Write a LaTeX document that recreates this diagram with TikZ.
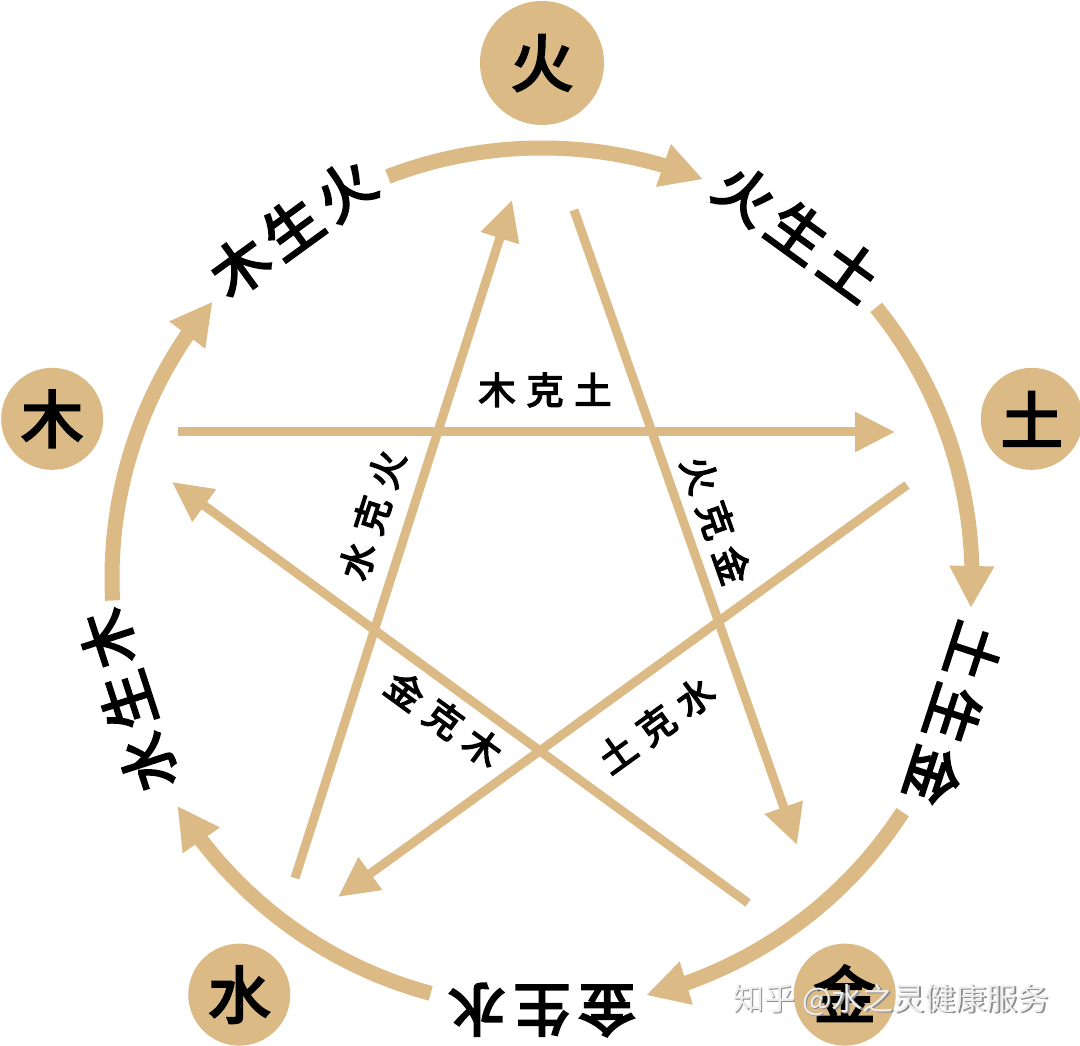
\documentclass[tikz,border=0pt]{standalone}
\usepackage{fontspec}
\newfontfamily\cjk{Noto Sans CJK SC}
\newfontfamily\cjkm{Noto Sans CJK SC}[FakeBold=4]
\usetikzlibrary{arrows.meta,bending,calc}
\definecolor{tanc}{RGB}{219,186,133}
\definecolor{wmshadow}{RGB}{140,140,140}
\definecolor{wmfill}{RGB}{238,238,238}
\begin{document}
\begin{tikzpicture}[x=1pt,y=1pt,
  elem/.style={circle,fill=tanc,inner sep=0pt,font=\cjkm\fontsize{62}{62}\selectfont},
  sheng/.style={draw=tanc,line width=15pt,-{Triangle[length=42pt,width=42pt,flex]}},
  ke/.style={draw=tanc,line width=9pt,-{Triangle[length=40pt,width=38pt]}},
  slab/.style={font=\cjkm\fontsize{57}{57}\selectfont,inner sep=0pt},
  klab/.style={font=\cjkm\fontsize{37}{37}\selectfont,inner sep=0pt},
  wmark/.style={font=\cjk\fontsize{31}{31}\selectfont,inner sep=0pt}]
\fill[white] (0,0) rectangle (1080,1046);
\useasboundingbox (0,0) rectangle (1080,1046);
\coordinate (C) at (542,468);

% star (ke) endpoints
\coordinate (muS) at (178,614);   \coordinate (muE) at (895,614);
\coordinate (huoS) at (574,836);  \coordinate (huoE) at (797,201);
\coordinate (jinS) at (748,143);  \coordinate (jinE) at (172,564);
\coordinate (shuiS) at (295,168); \coordinate (shuiE) at (512,846);
\coordinate (tuS) at (907,561);   \coordinate (tuE) at (338,149);

\draw[ke] (muS) -- (muE);
\draw[ke] (huoS) -- (huoE);
\draw[ke] (jinS) -- (jinE);
\draw[ke] (shuiS) -- (shuiE);
\draw[ke] (tuS) -- (tuE);

% outer (sheng) arcs
\foreach \t/\i in {90/1,18/2,-54/3,-126/4,162/5}{
  \pgfmathsetmacro{\a}{\t+21}
  \pgfmathsetmacro{\b}{\t-22}
  \coordinate (arc\i) at ($(C)+(\a:430)$);
  \draw[sheng] (arc\i) arc[start angle=\a, end angle=\b, radius=430];
}

% element circles
\node[elem,minimum size=124pt] (huo) at ($(C)+(90:515)$) {火};
\node[elem,minimum size=102pt] (tu) at ($(C)+(18:515)$) {土};
\node[elem,minimum size=102pt] (jin) at ($(C)+(-54:515)$) {\raisebox{6pt}{金}};
\node[elem,minimum size=102pt] (shui) at ($(C)+(-126:515)$) {水};
\node[elem,minimum size=102pt] (mu) at ($(C)+(162:515)$) {木};

% sheng labels
\node[slab,rotate=36] (l1) at ($(C)+(125.5:430)$) {木\hspace{8pt}生\hspace{8pt}火};
\node[slab,rotate=-36] (l2) at ($(C)+(53.5:430)$) {火\hspace{8pt}生\hspace{8pt}土};
\node[slab,rotate=-108] (l3) at ($(C)+(-18.3:434)$) {土\hspace{8pt}生\hspace{8pt}金};
\node[slab,rotate=180] (l4) at ($(C)+(-90:432)$) {金\hspace{8pt}生\hspace{8pt}水};
\node[slab,rotate=108] (l5) at ($(C)+(-163.5:432)$) {水\hspace{8pt}生\hspace{8pt}木};

% ke labels
\node[klab] (k1) at (545,656) {木\hspace{11pt}克\hspace{11pt}土};
\node[klab,rotate=-70.65] (k2) at (716,526) {火\hspace{11pt}克\hspace{11pt}金};
\node[klab,rotate=72.25] (k3) at (372,531) {水\hspace{11pt}克\hspace{11pt}火};
\node[klab,rotate=-36.16] (k4) at (444,327) {金\hspace{11pt}克\hspace{11pt}木};
\node[klab,rotate=35.9] (k5) at (656,321) {土\hspace{11pt}克\hspace{11pt}水};

% watermark
\node[wmark,text=wmshadow] (wm0) at (892.5,44.5) {知乎 @水之灵健康服务};
\node[wmark,text=wmfill] (wm1) at (891,46) {知乎 @水之灵健康服务};
\end{tikzpicture}
\end{document}
